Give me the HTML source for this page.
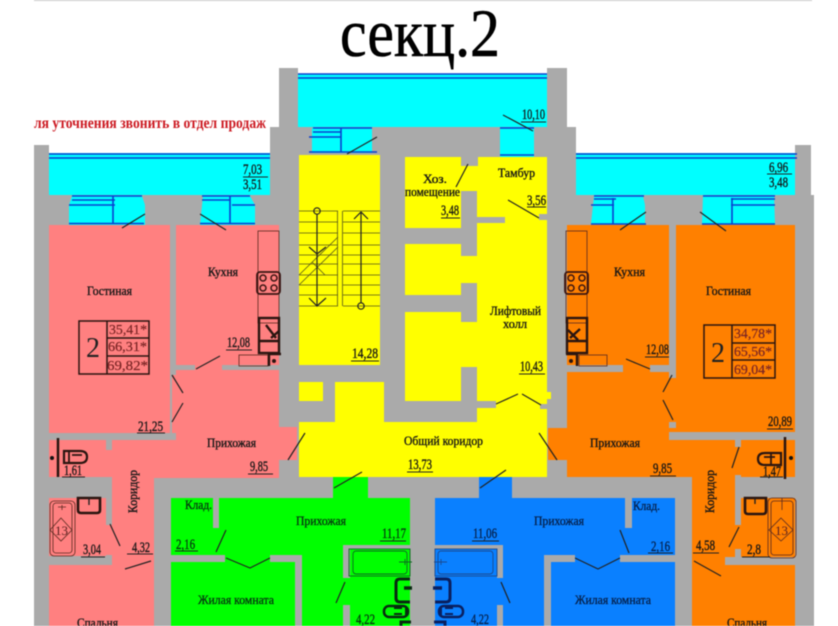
<!DOCTYPE html>
<html><head><meta charset="utf-8"><style>
html,body{margin:0;padding:0;background:#fff}
svg{display:block;filter:blur(.5px)}
text{font-family:"Liberation Serif","Noto Serif CJK SC",serif;fill:#161616;font-size:12.5px;stroke:#161616;stroke-width:.35}
.n{font-size:14.5px}
.gt{fill:#063a10;stroke:#063a10}
.bt{fill:#06224e;stroke:#06224e}
.b{fill:none;stroke:#0a3fd0;stroke-width:1.6}
.k{fill:none;stroke:#222;stroke-width:1.2}
.f{fill:none;stroke:#2a1510;stroke-width:2.4}
.t{fill:none;stroke:#5a2a20;stroke-width:.8}
.s{fill:none;stroke:#55551a;stroke-width:.8}
.u{fill:none;stroke:#222;stroke-width:1}
.m{font-size:13.5px;fill:#7a2525;stroke:#7a2525;stroke-width:.2}
</style></head><body>
<svg width="838" height="626" viewBox="0 0 838 626" xmlns="http://www.w3.org/2000/svg">
<rect width="838" height="626" fill="#fff"/>
<rect x="34" y="0" width="778" height="1" fill="#c8c8c8"/>
<text x="340" y="56" style="font-size:68px;stroke-width:.6;stroke:#000;fill:#000" textLength="160" lengthAdjust="spacingAndGlyphs">секц.2</text>
<text x="34" y="128" style="font-size:15.5px;font-weight:bold;fill:#cc1a22;stroke:none" textLength="232" lengthAdjust="spacingAndGlyphs">ля уточнения звонить в отдел продаж</text>

<!-- building -->
<polygon fill="#aaaaaa" points="34,145 49,145 49,195 270,195 270,127 279,127 279,68 298,68 298,127 547,127 547,68 567,68 567,127 576,127 576,195 795,195 795,145 811,145 811,195 814,195 814,626 34,626"/>

<!-- cyan -->
<g fill="#00ffff">
<rect x="49" y="153" width="221" height="42"/>
<rect x="576" y="153" width="219" height="42"/>
<rect x="298" y="74" width="249" height="53"/>
<polygon points="72,196 142,196 145,205 145,225 69,225 69,205"/>
<polygon points="203,196 250,196 255,205 255,225 200,225"/>
<polygon points="594,196 643,196 645,205 645,224 591,224"/>
<polygon points="703,196 774,196 775,224 702,224"/>
<rect x="312" y="128" width="60" height="25"/>
<rect x="500" y="128" width="34" height="29"/>
</g>
<g class="b">
<path d="M49,154H270M49,158H270"/>
<path d="M72,196H142M72,200H115M69,205H115M69,223.5H144M113,196V224"/>
<path d="M202,196H250M202,200H230M232,205H255M200,223.5H255M230,196V224"/>
<path d="M576,154H797M576,158H797"/>
<path d="M594,196H644M594,199H616M591,205H614M591,224H646M613,198V224"/>
<path d="M703,196H775M731,199H775M731,205H775M702,224H775M732,198V224"/>
</g>
<path d="M298,74H547M298,78H547" class="b"/>
<path d="M313,128H372M313,132H341M309,137H341M309,152H377M341,128V152M500,128H534M500,155H534" class="b"/>

<!-- yellow -->
<g fill="#ffff00">
<rect x="299" y="155" width="81" height="210"/>
<rect x="299" y="382" width="24" height="19"/>
<rect x="335" y="382" width="49" height="42"/>
<rect x="299" y="422" width="248" height="55"/>
<rect x="405" y="157" width="72" height="71"/>
<rect x="405" y="244" width="72" height="51"/>
<rect x="405" y="312" width="72" height="89"/>
<rect x="477" y="157" width="70" height="251"/>
<rect x="477" y="408" width="70" height="16"/>
</g>
<g fill="#aaaaaa">
<rect x="461" y="157" width="17" height="9"/>
<rect x="461" y="191" width="16" height="65"/>
<rect x="461" y="217" width="44" height="6"/>
<rect x="405" y="228" width="56" height="16"/>
<rect x="461" y="283" width="16" height="39"/>
<rect x="405" y="295" width="56" height="17"/>
<rect x="461" y="367" width="16" height="34"/>
<rect x="461" y="401" width="35" height="7"/>
<rect x="384" y="401" width="93" height="21"/>
<rect x="539" y="214" width="8" height="6"/>
<rect x="540" y="404" width="7" height="5"/>
</g>
<rect x="547" y="392" width="4" height="7" fill="#ffff00"/>

<!-- pink -->
<g fill="#ff8080">
<rect x="49" y="225" width="121" height="208"/>
<rect x="176" y="225" width="103" height="140"/>
<rect x="176" y="370" width="103" height="64"/>
<rect x="195" y="364" width="27" height="7"/>
<rect x="172" y="375" width="6" height="58"/>
<rect x="176" y="427" width="121" height="33"/>
<rect x="112" y="440" width="167" height="38"/>
<rect x="279" y="427" width="18" height="33"/>
<rect x="49" y="440" width="57" height="37"/>
<rect x="106" y="450" width="7" height="27"/>
<rect x="112" y="477" width="42" height="149"/>
<rect x="49" y="498" width="57" height="58"/>
<rect x="106" y="525" width="7" height="30"/>
<rect x="120" y="556" width="34" height="10"/>
<rect x="49" y="565" width="105" height="61"/>
</g>
<rect x="279" y="372" width="18" height="55" fill="#aaaaaa"/>

<!-- orange -->
<g fill="#ff8000">
<rect x="567" y="225" width="102" height="140"/>
<rect x="623" y="364" width="27" height="8"/>
<rect x="567" y="372" width="102" height="60"/>
<rect x="669" y="372" width="7" height="50"/>
<rect x="676" y="225" width="119" height="207"/>
<rect x="548" y="428" width="144" height="49"/>
<rect x="567" y="432" width="168" height="45"/>
<rect x="741" y="440" width="54" height="37"/>
<rect x="735" y="447" width="6" height="28"/>
<rect x="692" y="477" width="43" height="149"/>
<rect x="741" y="498" width="54" height="59"/>
<rect x="735" y="525" width="6" height="24"/>
<rect x="692" y="565" width="103" height="61"/>
</g>
<rect x="548" y="460" width="19" height="18" fill="#aaaaaa"/>
<rect x="669" y="432" width="126" height="8" fill="#aaaaaa"/>
<rect x="725" y="557" width="70" height="8" fill="#aaaaaa"/>
<rect x="669" y="372" width="7" height="6" fill="#aaaaaa"/>

<!-- green -->
<g fill="#00ff00">
<rect x="333" y="477" width="35" height="22"/>
<rect x="171" y="498" width="42" height="57"/>
<rect x="219" y="498" width="191" height="47"/>
<rect x="213" y="528" width="6" height="27"/>
<rect x="219" y="498" width="124" height="57"/>
<rect x="302" y="545" width="41" height="81"/>
<rect x="350" y="549" width="60" height="77"/>
<rect x="171" y="562" width="124" height="64"/>
<rect x="343" y="578" width="7" height="27"/>
</g>
<rect x="171" y="555" width="54" height="7" fill="#aaaaaa"/>
<rect x="270" y="555" width="32" height="7" fill="#aaaaaa"/>
<rect x="225" y="555" width="45" height="7" fill="#00ff00"/>
<rect x="295" y="555" width="7" height="71" fill="#aaaaaa"/>

<!-- blue -->
<g fill="#0a80ff">
<rect x="479" y="477" width="33" height="22"/>
<rect x="435" y="498" width="190" height="47"/>
<rect x="503" y="498" width="122" height="57"/>
<rect x="632" y="498" width="43" height="57"/>
<rect x="625" y="528" width="7" height="27"/>
<rect x="435" y="549" width="62" height="77"/>
<rect x="503" y="545" width="41" height="81"/>
<rect x="497" y="578" width="6" height="27"/>
<rect x="551" y="562" width="124" height="64"/>
<rect x="575" y="555" width="45" height="8"/>
</g>
<rect x="544" y="555" width="7" height="71" fill="#aaaaaa"/>
<rect x="544" y="555" width="31" height="7" fill="#aaaaaa"/>
<rect x="620" y="555" width="55" height="7" fill="#aaaaaa"/>

<!-- stairs -->
<g class="s">
<path d="M299,211H338M299,222H338M299,233H338M299,245H338M299,255H338M299,264H338M299,275H338M299,285H338M299,295H338M299,306H338"/>
<path d="M343,211H380M343,222H380M343,233H380M343,245H380M343,255H380M343,264H380M343,275H380M343,285H380M343,295H380M343,306H380"/>
<path d="M337.500,211V306M342.500,211V306"/>
<path d="M299,275L338,237M299,285L338,247M312,262L325,275"/>
</g>
<g class="k">
<circle cx="317" cy="211" r="3.200"/><path d="M317,214V306M309,298L317,306L326,298M309,247L317,254L326,247"/>
<circle cx="361" cy="306" r="3.200"/><path d="M361,303V212M354,219L361,212L368,219"/>
</g>

<!-- doors -->
<g class="k">
<path d="M122,228L145,214M200,214L226,230"/>
<path d="M347,154L377,137M503,115L533,131"/>
<path d="M456,187L468,164M508,200L539,218"/>
<path d="M620,230L646,212M700,212L726,231"/>
<path d="M172,375L183,393M183,403L172,422M196,369L220,356"/>
<path d="M626,359L650,369"/>
<path d="M672,375L663,392M663,400L673,420"/>
<path d="M288,460L305,433M539,433L557,460"/>
<path d="M496,404L518,394M522,394L541,405"/>
<path d="M334,488L362,472M480,488L506,470"/>
<path d="M110,524L120,546M125,569L151,561"/>
<path d="M216,552L226,530M226,558L250,568L270,558"/>
<path d="M336,603L345,582M501,582L510,603"/>
<path d="M739,447L732,468M739,527L729,547M694,561L721,576"/>
<path d="M575,558L598,569L620,558M620,530L629,553"/>
</g>

<!-- kitchens -->
<g class="t">
<rect x="258" y="231" width="21" height="92"/>
<rect x="239" y="355" width="29" height="11"/>
<rect x="566" y="231" width="21" height="92"/>
<rect x="579" y="355" width="28" height="11"/>
</g>
<g>
<rect x="257" y="272" width="23" height="22" rx="3" fill="none" stroke="#3a1512" stroke-width="1.8"/>
<g fill="none" stroke="#3a1512" stroke-width="1.5"><circle cx="263" cy="278" r="3"/><circle cx="274" cy="278" r="3"/><circle cx="263" cy="288" r="3"/><circle cx="274" cy="288" r="3"/></g>
<rect x="565" y="272" width="23" height="22" rx="3" fill="none" stroke="#3a1512" stroke-width="1.8"/>
<g fill="none" stroke="#3a1512" stroke-width="1.5"><circle cx="571" cy="278" r="3"/><circle cx="582" cy="278" r="3"/><circle cx="571" cy="288" r="3"/><circle cx="582" cy="288" r="3"/></g>
</g>
<g class="f">
<rect x="259" y="318" width="20" height="35"/><path d="M259,341H279M266,325L276,338M271,338L279,331"/>
<path d="M269,366V354H281"/><circle cx="274" cy="361" r="2" fill="#2a1510" stroke="none"/>
<rect x="567" y="318" width="20" height="35"/><path d="M567,341H587M570,338L580,329M568,330L578,340"/>
<path d="M577,366V354H566"/><circle cx="571" cy="361" r="2" fill="#2a1510" stroke="none"/>
</g>

<!-- apartment info -->
<g class="f" style="stroke-width:1.5">
<rect x="79" y="321" width="70" height="53"/><path d="M107,321V374M107,338H149M107,356H149"/>
<rect x="704" y="325" width="71" height="53"/><path d="M732,325V378M732,343H775M732,360H775"/>
</g>
<text x="86" y="357" style="font-size:28px;stroke:none;fill:#222">2</text>
<text x="711" y="362" style="font-size:28px;stroke:none;fill:#222">2</text>
<text class="m" x="109" y="334" textLength="38" lengthAdjust="spacingAndGlyphs">35,41*</text>
<text class="m" x="108" y="351" textLength="39" lengthAdjust="spacingAndGlyphs">66,31*</text>
<text class="m" x="107" y="370" textLength="41" lengthAdjust="spacingAndGlyphs">69,82*</text>
<text class="m" x="734" y="338" textLength="38" lengthAdjust="spacingAndGlyphs">34,78*</text>
<text class="m" x="734" y="356" textLength="38" lengthAdjust="spacingAndGlyphs">65,56*</text>
<text class="m" x="734" y="374" textLength="38" lengthAdjust="spacingAndGlyphs">69,04*</text>

<!-- WCs / fixtures -->
<g class="f">
<path d="M58,438V477" style="stroke-width:2.500"/>
<path d="M64,451H80Q87,451 87,457Q87,463 80,463H64Z" style="stroke-width:2.200"/>
<path d="M72,455H82M69,451V463" style="stroke-width:1.800"/>
<path d="M785,437V479" style="stroke-width:2.500"/>
<path d="M781,453H765Q758,453 758,459Q758,465 765,465H781Z" style="stroke-width:2.200"/>
<path d="M775,457H764M771,453V465" style="stroke-width:1.800"/>
<path d="M78,498V510Q78,513 81,513H97Q100,513 100,510V498Z" style="stroke-width:2.600"/>
<path d="M745,498V511Q745,514 748,514H763Q766,514 766,511V498Z" style="stroke-width:2.600"/>
</g>
<circle cx="52" cy="458" r="2" fill="#111"/><circle cx="791" cy="458" r="2" fill="#111"/>
<path d="M89,498V505M755,498V504" stroke="#222" stroke-width="1.4"/>
<g class="t">
<rect x="50" y="501" width="25" height="55" rx="4"/>
<rect x="53" y="503" width="19" height="50" rx="3"/>
<polygon points="61,518 72,530 61,541 50,530"/>
<rect x="768" y="498" width="28" height="60" rx="4"/>
<rect x="771" y="501" width="22" height="54" rx="3"/>
<polygon points="781,518 793,530 781,541 769,530"/>
<path d="M62,505V510M58,507H66M782,498V510"/>
</g>
<text x="55" y="535" style="font-size:13px;stroke:none;fill:#5a2020">13</text>
<text x="775" y="535" style="font-size:13px;stroke:none;fill:#5a2020">13</text>

<!-- baths -->
<g fill="none" stroke="#0d6a20" stroke-width=".9">
<rect x="349" y="549" width="61" height="27"/><rect x="353" y="551" width="54" height="23" rx="3"/><path d="M399,562H412M405,559V565"/>
</g>
<g fill="none" stroke="#1b4a90" stroke-width=".9">
<rect x="435" y="549" width="62" height="27"/><rect x="438" y="551" width="55" height="23" rx="3"/><path d="M434,562H447M441,559V565"/>
</g>
<g fill="none" stroke="#082a10" stroke-width="3">
<path d="M410,579H400Q396,579 396,583V598Q396,602 400,602H410"/>
<path d="M404,588H412" stroke-width="3.500"/>
<rect x="384" y="606" width="24" height="11" rx="5" stroke-width="2.500"/>
<path d="M394,608H402M394,614H402M406,606V617" stroke-width="2"/>
<path d="M401,626V622H411"/>
</g>
<g fill="none" stroke="#0a2060" stroke-width="3">
<path d="M435,579H446Q450,579 450,583V598Q450,602 446,602H435"/>
<path d="M442,588H433" stroke-width="3.500"/>
<rect x="439" y="606" width="24" height="11" rx="5" stroke-width="2.500"/>
<path d="M445,608H453M445,614H453M441,606V617" stroke-width="2"/>
<path d="M445,626V622H434"/>
</g>

<!-- dimension lines -->
<g class="u">
<path d="M243,177H268M767,174H792M521,122H546M441,218H460M527,207H546"/>
<path d="M351,361H379M226,350H252M645,357H669M137,433H165M767,429H793M248,474H273M650,476H676M519,374H545M407,472H433"/>
<path d="M62,477H85M760,477H783M81,557H105M127,554H153M742,557H770M693,553H719"/>
<path d="M175,551H198M648,553H673M380,541H406M472,541H499"/>
</g>

<!-- labels -->
<text class="n" x="243" y="174" textLength="19" lengthAdjust="spacingAndGlyphs">7,03</text>
<text class="n" x="243" y="189" textLength="19" lengthAdjust="spacingAndGlyphs">3,51</text>
<text class="n" x="769" y="172" textLength="19" lengthAdjust="spacingAndGlyphs">6,96</text>
<text class="n" x="769" y="187" textLength="19" lengthAdjust="spacingAndGlyphs">3,48</text>
<text class="n" x="522" y="119" textLength="23" lengthAdjust="spacingAndGlyphs">10,10</text>
<text x="423" y="183" textLength="24" lengthAdjust="spacingAndGlyphs">Хоз.</text>
<text x="405" y="196" textLength="55" lengthAdjust="spacingAndGlyphs">помещение</text>
<text class="n" x="441" y="215" textLength="18" lengthAdjust="spacingAndGlyphs">3,48</text>
<text x="498" y="177" textLength="37" lengthAdjust="spacingAndGlyphs">Тамбур</text>
<text class="n" x="527" y="205" textLength="19" lengthAdjust="spacingAndGlyphs">3,56</text>
<text x="490" y="315" textLength="51" lengthAdjust="spacingAndGlyphs">Лифтовый</text>
<text x="503" y="328" textLength="24" lengthAdjust="spacingAndGlyphs">холл</text>
<text class="n" x="520" y="371" textLength="23" lengthAdjust="spacingAndGlyphs">10,43</text>
<text class="n" x="352" y="358" textLength="26" lengthAdjust="spacingAndGlyphs">14,28</text>
<text x="404" y="445" textLength="79" lengthAdjust="spacingAndGlyphs">Общий коридор</text>
<text class="n" x="408" y="469" textLength="24" lengthAdjust="spacingAndGlyphs">13,73</text>

<text x="87" y="295" textLength="45" lengthAdjust="spacingAndGlyphs">Гостиная</text>
<text x="208" y="276" textLength="30" lengthAdjust="spacingAndGlyphs">Кухня</text>
<text class="n" x="227" y="347" textLength="23" lengthAdjust="spacingAndGlyphs">12,08</text>
<text class="n" x="138" y="431" textLength="25" lengthAdjust="spacingAndGlyphs">21,25</text>
<text x="207" y="447" textLength="49" lengthAdjust="spacingAndGlyphs">Прихожая</text>
<text class="n" x="250" y="471" textLength="18" lengthAdjust="spacingAndGlyphs">9,85</text>
<text class="n" x="64" y="475" textLength="18" lengthAdjust="spacingAndGlyphs">1,61</text>
<text class="n" x="83" y="554" textLength="18" lengthAdjust="spacingAndGlyphs">3,04</text>
<text class="n" x="132" y="552" textLength="18" lengthAdjust="spacingAndGlyphs">4,32</text>
<text transform="translate(137,513) rotate(-90)" textLength="43" lengthAdjust="spacingAndGlyphs">Коридор</text>
<text x="77" y="627" textLength="41" lengthAdjust="spacingAndGlyphs">Спальня</text>

<text x="706" y="295" textLength="45" lengthAdjust="spacingAndGlyphs">Гостиная</text>
<text x="614" y="276" textLength="31" lengthAdjust="spacingAndGlyphs">Кухня</text>
<text class="n" x="646" y="354" textLength="23" lengthAdjust="spacingAndGlyphs">12,08</text>
<text class="n" x="768" y="426" textLength="24" lengthAdjust="spacingAndGlyphs">20,89</text>
<text x="590" y="447" textLength="50" lengthAdjust="spacingAndGlyphs">Прихожая</text>
<text class="n" x="653" y="473" textLength="19" lengthAdjust="spacingAndGlyphs">9,85</text>
<text class="n" x="763" y="476" textLength="18" lengthAdjust="spacingAndGlyphs">1,47</text>
<text class="n" x="747" y="554" textLength="14" lengthAdjust="spacingAndGlyphs">2,8</text>
<text class="n" x="696" y="550" textLength="19" lengthAdjust="spacingAndGlyphs">4,58</text>
<text transform="translate(714,513) rotate(-90)" textLength="43" lengthAdjust="spacingAndGlyphs">Коридор</text>
<text x="727" y="627" textLength="40" lengthAdjust="spacingAndGlyphs">Спальня</text>

<text class="gt" x="185" y="509" textLength="27" lengthAdjust="spacingAndGlyphs">Клад.</text>
<text class="gt n" x="176" y="549" textLength="19" lengthAdjust="spacingAndGlyphs">2,16</text>
<text class="gt" x="296" y="525" textLength="50" lengthAdjust="spacingAndGlyphs">Прихожая</text>
<text class="gt n" x="382" y="538" textLength="24" lengthAdjust="spacingAndGlyphs">11,17</text>
<text class="gt" x="198" y="604" textLength="76" lengthAdjust="spacingAndGlyphs">Жилая комната</text>
<text class="gt n" x="356" y="624" textLength="19" lengthAdjust="spacingAndGlyphs">4,22</text>

<text class="bt" x="633" y="510" textLength="27" lengthAdjust="spacingAndGlyphs">Клад.</text>
<text class="bt n" x="651" y="551" textLength="19" lengthAdjust="spacingAndGlyphs">2,16</text>
<text class="bt" x="534" y="525" textLength="50" lengthAdjust="spacingAndGlyphs">Прихожая</text>
<text class="bt n" x="473" y="538" textLength="24" lengthAdjust="spacingAndGlyphs">11,06</text>
<text class="bt" x="575" y="604" textLength="76" lengthAdjust="spacingAndGlyphs">Жилая комната</text>
<text class="bt n" x="471" y="624" textLength="18" lengthAdjust="spacingAndGlyphs">4,22</text>
</svg>
</body></html>
